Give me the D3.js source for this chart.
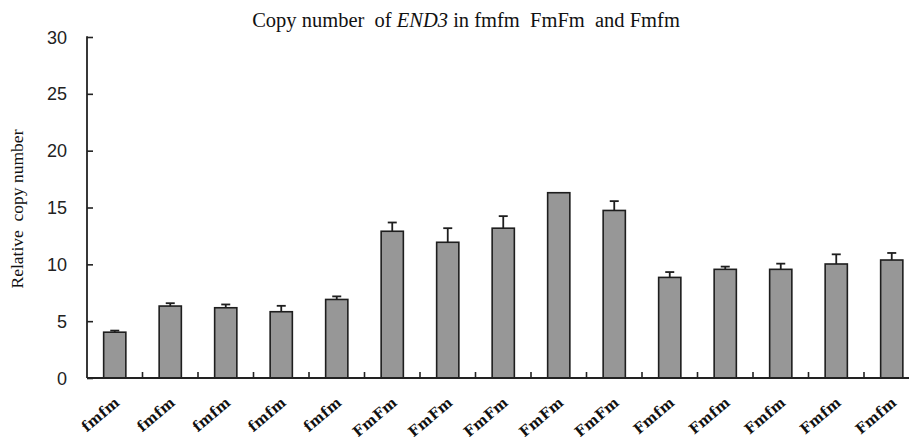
<!DOCTYPE html>
<html>
<head>
<meta charset="utf-8">
<script src="https://cdn.jsdelivr.net/npm/d3@7/dist/d3.min.js"></script>
<style>
  html, body { margin: 0; padding: 0; background: #fff; }
  svg { display: block; }
</style>
</head>
<body>
<svg id="chart" width="909" height="437"></svg>
<script>
// Genotype of each sample
const categories = [
  "fmfm", "fmfm", "fmfm", "fmfm", "fmfm",
  "FmFm", "FmFm", "FmFm", "FmFm", "FmFm",
  "Fmfm", "Fmfm", "Fmfm", "Fmfm", "Fmfm"
];
// Relative copy number (mean) per sample
const values = [4.03, 6.33, 6.18, 5.83, 6.91, 12.91, 11.94, 13.18, 16.3, 14.74, 8.85, 9.56, 9.56, 10.03, 10.38];
// Standard error (upper bar only)
const errors = [0.14, 0.25, 0.29, 0.52, 0.27, 0.77, 1.24, 1.06, 0, 0.82, 0.47, 0.24, 0.5, 0.85, 0.62];
// Y axis ticks
const yTicks = [0, 5, 10, 15, 20, 25, 30];

const svg = d3.select("#chart");
const x0 = 87, yBottom = 378, yTop = 37;
const step = 55.5;

const x = d3.scaleBand()
  .domain(d3.range(categories.length))
  .range([x0, x0 + step * categories.length])
  .paddingInner(0.6)
  .paddingOuter(0.3);

const y = d3.scaleLinear().domain([0, 30]).range([yBottom, yTop]);

// Title
const title = svg.append("text")
  .attr("x", 466).attr("y", 27)
  .attr("text-anchor", "middle")
  .attr("font-family", "'Liberation Serif', 'Times New Roman', serif")
  .attr("font-size", 20.5)
  .attr("fill", "#111")
  .attr("xml:space", "preserve");
title.append("tspan").text("Copy number  of ");
title.append("tspan").attr("font-style", "italic").text("END3");
title.append("tspan").text(" in fmfm  FmFm  and Fmfm");

// Y axis label
svg.append("g")
  .attr("transform", "translate(23,209)")
  .append("text")
  .attr("transform", "rotate(-90)")
  .attr("text-anchor", "middle")
  .attr("font-family", "'Liberation Serif', 'Times New Roman', serif")
  .attr("font-size", 17.5)
  .attr("fill", "#111")
  .attr("xml:space", "preserve")
  .text("Relative  copy number");

// Bars
svg.append("g").selectAll("rect")
  .data(values)
  .join("rect")
  .attr("x", (d, i) => x(i))
  .attr("y", d => y(d))
  .attr("width", x.bandwidth())
  .attr("height", d => y(0) - y(d))
  .attr("fill", "#979797")
  .attr("stroke", "#1e1e1e")
  .attr("stroke-width", 1.6);

// Error bars
const eb = svg.append("g").attr("stroke", "#1e1e1e").attr("stroke-width", 1.8);
values.forEach((v, i) => {
  if (!errors[i]) return;
  const cx = x(i) + x.bandwidth() / 2;
  eb.append("line").attr("x1", cx).attr("x2", cx).attr("y1", y(v)).attr("y2", y(v + errors[i]));
  eb.append("line").attr("x1", cx - 4.5).attr("x2", cx + 4.5).attr("y1", y(v + errors[i])).attr("y2", y(v + errors[i]));
});

// Y axis with inward ticks
const yAxis = d3.axisRight(y).tickValues(yTicks).tickSize(6).tickFormat("");
const gy = svg.append("g").attr("transform", `translate(${x0},0)`).call(yAxis);
gy.select(".domain").remove();
gy.selectAll(".tick line").attr("stroke", "#222").attr("stroke-width", 1.6);
svg.append("line")
  .attr("x1", x0).attr("x2", x0).attr("y1", yTop - 0.8).attr("y2", yBottom)
  .attr("stroke", "#222").attr("stroke-width", 1.8);

svg.append("g").selectAll("text")
  .data(yTicks)
  .join("text")
  .attr("x", 67)
  .attr("y", d => y(d) + 6.5)
  .attr("text-anchor", "end")
  .attr("font-family", "'Liberation Sans Narrow', 'Liberation Sans', Arial, sans-serif")
  .attr("font-size", 18)
  .attr("fill", "#222")
  .text(d => d);

// X axis line and boundary ticks
svg.append("line")
  .attr("x1", x0).attr("x2", 909).attr("y1", yBottom).attr("y2", yBottom)
  .attr("stroke", "#222").attr("stroke-width", 1.8);
const bounds = d3.range(1, categories.length).map(k => x0 + x.step() * k);
svg.append("g").selectAll("line")
  .data(bounds)
  .join("line")
  .attr("x1", d => d).attr("x2", d => d)
  .attr("y1", yBottom).attr("y2", yBottom - 6)
  .attr("stroke", "#222").attr("stroke-width", 1.6);

// Category labels, slanted 40 degrees upward, ending under each bar
const ang = -40 * Math.PI / 180;
const ca = Math.cos(ang), sa = Math.sin(ang);
svg.append("g").selectAll("text")
  .data(categories)
  .join("text")
  .attr("transform", (d, i) => {
    const tx = x(i) + x.bandwidth() / 2 + 6;
    return `matrix(${ca} ${sa} ${-sa} ${ca} ${tx} 404)`;
  })
  .style("text-anchor", "end")
  .style("font-family", "'DejaVu Serif', 'Liberation Serif', serif")
  .style("font-weight", "bold")
  .style("font-size", "14.5px")
  .style("letter-spacing", "0.3px")
  .attr("fill", "#111")
  .text(d => d);
</script>
</body>
</html>
